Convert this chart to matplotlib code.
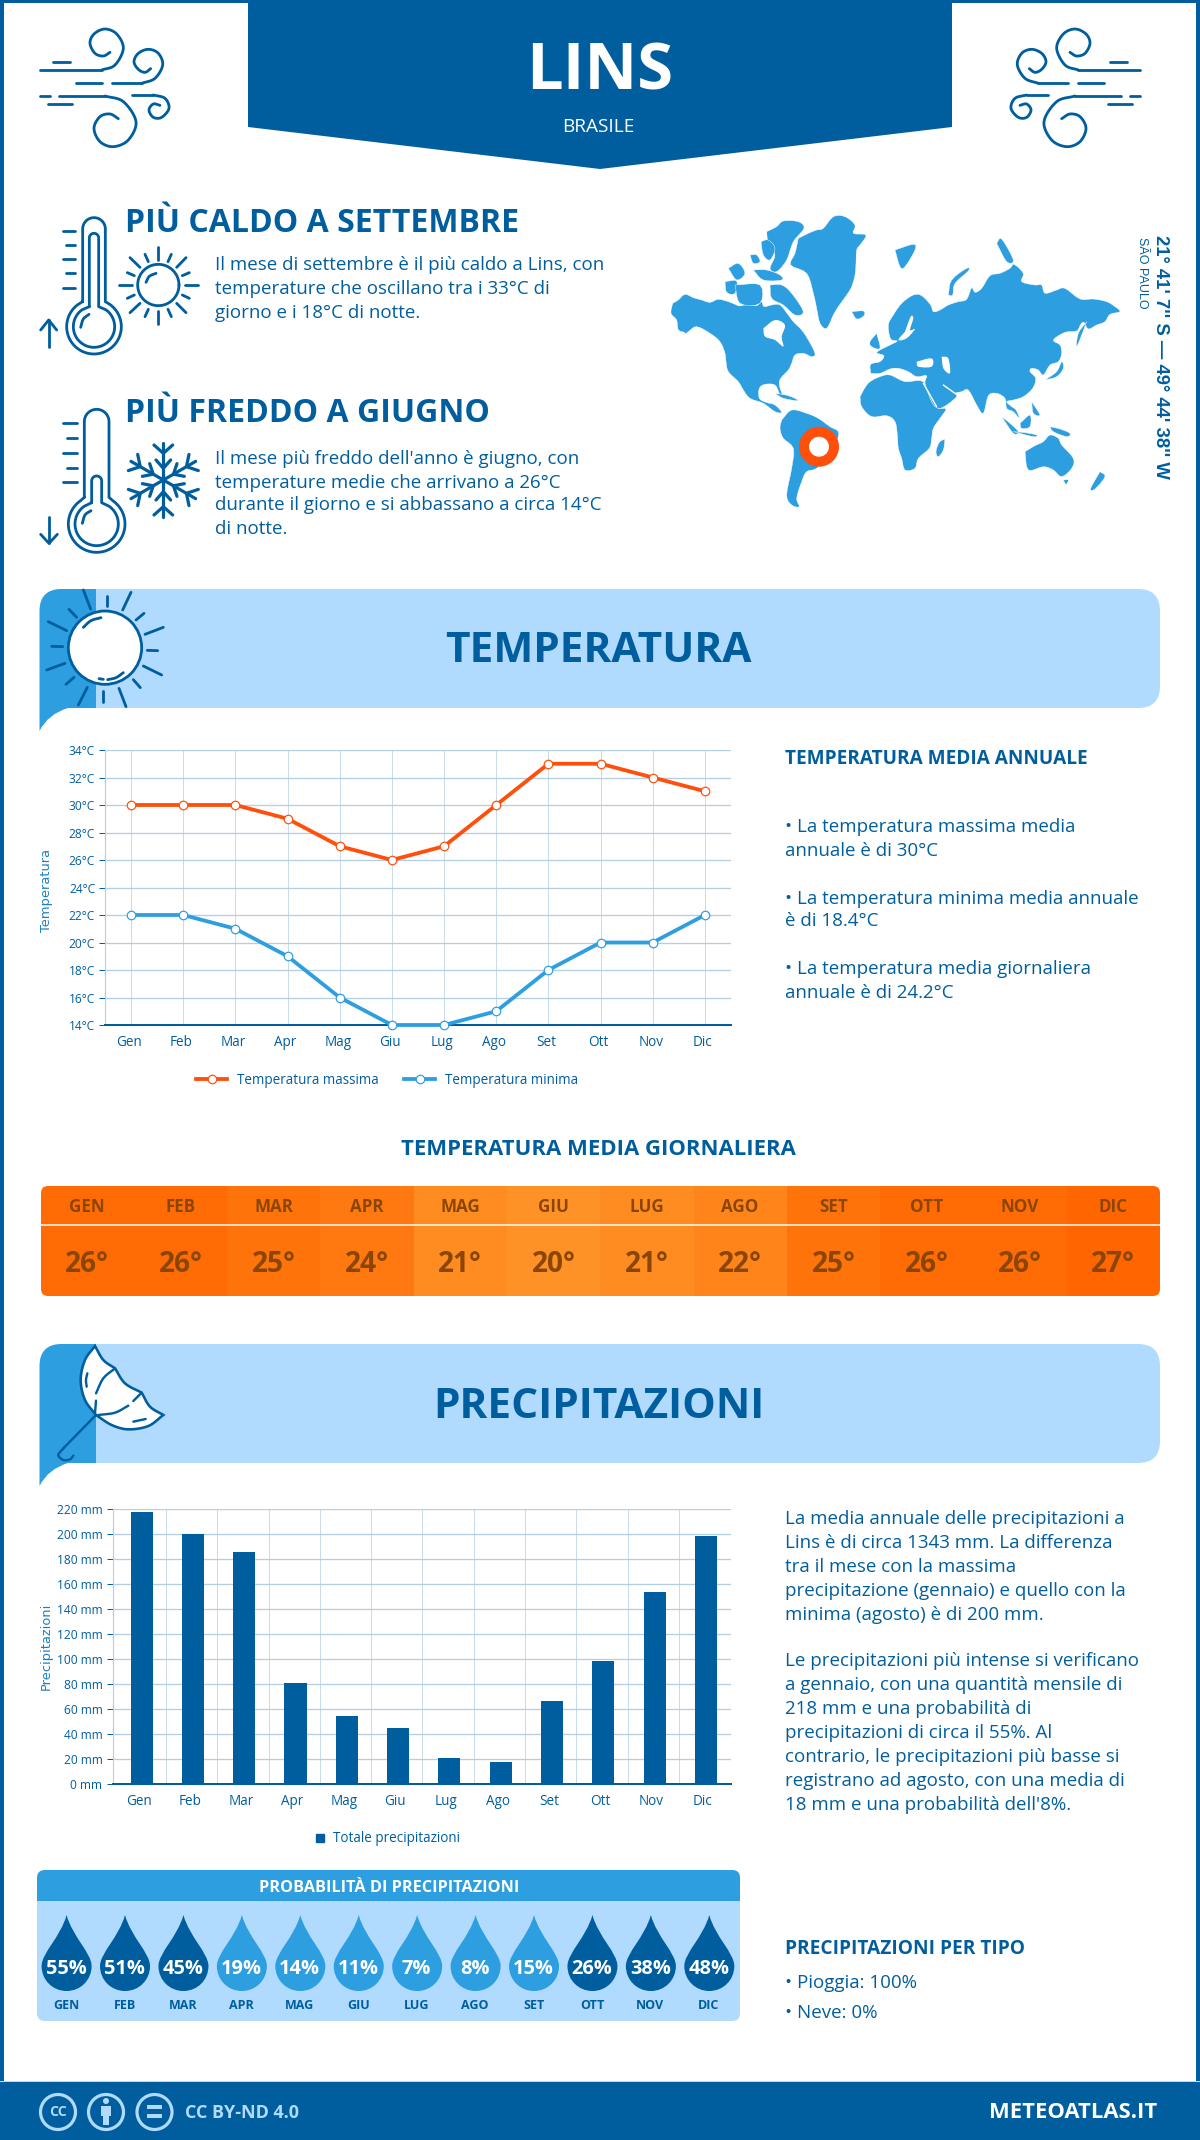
import matplotlib
matplotlib.use("Agg")
import matplotlib.pyplot as plt
import numpy as np
from matplotlib.colors import LinearSegmentedColormap
from matplotlib.lines import Line2D
from matplotlib.patches import Circle, FancyBboxPatch, PathPatch, Polygon, Rectangle
from matplotlib.path import Path
from matplotlib.transforms import ScaledTranslation

plt.rcParams['font.family'] = ['Open Sans', 'DejaVu Sans']

months = ["Gen", "Feb", "Mar", "Apr", "Mag", "Giu", "Lug", "Ago", "Set", "Ott", "Nov", "Dic"]
temp_max = [30, 30, 30, 29, 27, 26, 27, 30, 33, 33, 32, 31]
temp_min = [22, 22, 21, 19, 16, 14, 14, 15, 18, 20, 20, 22]
temp_daily = [26, 26, 25, 24, 21, 20, 21, 22, 25, 26, 26, 27]
rain_mm = [218, 200, 186, 81, 55, 45, 21, 18, 67, 99, 154, 199]
rain_prob = [55, 51, 45, 19, 14, 11, 7, 8, 15, 26, 38, 48]

DARK = "#005E9E"
MID = "#2D9EE0"
LIGHT = "#B0DBFF"
ORANGE = "#FF4F0A"
GRID = "#B4CFE4"
BROWN = "#8A4500"
BODY = 18.8

W, H = 1200, 2140
fig = plt.figure(figsize=(W / 100, H / 100), dpi=100)
bg = fig.add_axes([0, 0, 1, 1])
bg.set_xlim(0, W)
bg.set_ylim(H, 0)
bg.axis("off")
bg.set_autoscale_on(False)


def pt(px):
    return px * 0.72


def txt(x, y, s, px, color=DARK, weight="normal", ha="left", va="center", **kw):
    # open sans sits a bit high when centred, so push horizontal text down
    dy = 0 if "rotation" in kw else 2.5
    return bg.text(x, y + dy, s, fontsize=pt(px), color=color, fontweight=weight, ha=ha, va=va, **kw)


def smooth(points, n=10):
    p = np.array(points, dtype=float)
    p = np.vstack([2 * p[0] - p[1], p, 2 * p[-1] - p[-2]])
    out = []
    for i in range(1, len(p) - 2):
        for t in np.linspace(0, 1, n, endpoint=False):
            out.append(0.5 * (2 * p[i] + (p[i + 1] - p[i - 1]) * t
                              + (2 * p[i - 1] - 5 * p[i] + 4 * p[i + 1] - p[i + 2]) * t ** 2
                              + (3 * p[i] - p[i - 1] - 3 * p[i + 1] + p[i + 2]) * t ** 3))
    out.append(p[-2])
    return np.array(out)


def stroke(pts, ox, oy, lw=2.8, color=DARK, mirror=None, zorder=3):
    p = np.array(pts, dtype=float)
    xs = ox + p[:, 0] / 3
    ys = oy + p[:, 1] / 3
    if mirror is not None:
        xs = mirror - xs
    bg.plot(xs, ys, color=color, lw=pt(lw), solid_capstyle="round", solid_joinstyle="round", zorder=zorder)


def arc(cx, cy, r, a0, a1, n=60):
    t = np.radians(np.linspace(a0, a1, n))
    return np.column_stack([cx + r * np.cos(t), cy + r * np.sin(t)])


# page frame and header
bg.add_patch(Rectangle((0, 0), W, H, fc="white", ec="none", zorder=0))
bg.add_patch(Rectangle((0, 0), 4, H, fc=DARK, ec="none", zorder=1))
bg.add_patch(Rectangle((W - 4, 0), 4, H, fc=DARK, ec="none", zorder=1))
bg.add_patch(Rectangle((0, 0), W, 3, fc=DARK, ec="none", zorder=1))
bg.add_patch(Polygon([(248, 0), (952, 0), (952, 127), (600, 169), (248, 127)], fc=DARK, ec="none", zorder=2))
txt(600, 70, "LINS", 65, "white", "bold", "center", zorder=3)
txt(598, 124, "BRASILE", 19, "white", "normal", "center", zorder=3)

# wind icons, same drawing mirrored on the right
wind_curves = [
    [(245, 180), (285, 165), (310, 115), (290, 72), (255, 57), (222, 72), (210, 100), (225, 130), (250, 138), (270, 127)],
    [(365, 220), (405, 205), (428, 165), (415, 130), (385, 118), (355, 130), (342, 155), (355, 178), (375, 187), (392, 176)],
    [(255, 258), (310, 275), (348, 335), (325, 390), (280, 410), (240, 395), (222, 355), (240, 320), (270, 312), (295, 326)],
    [(400, 255), (435, 265), (447, 295), (425, 322), (400, 322), (387, 300), (400, 282), (420, 286)],
]
wind_lines = [
    [(60, 180), (245, 180)], [(275, 220), (365, 220)], [(118, 258), (255, 258)], [(335, 255), (400, 255)],
    [(98, 155), (150, 155)], [(168, 220), (245, 220)], [(60, 258), (90, 258)], [(85, 283), (155, 283)],
]
for m in [None, 1180]:
    for c in wind_curves:
        stroke(smooth(c), 20, 10, mirror=m)
    for l in wind_lines:
        stroke(l, 20, 10, mirror=m)


def thermometer(ox, oy, outer, inner, cx, cy, high):
    for l, r, top, neck, rad in [outer, inner]:
        hw = (r - l) / 2
        body = [[(l, neck)], arc(cx, cy, rad, 235, -55), [(r, neck)], arc((l + r) / 2, top + hw, hw, 0, -180), [(l, neck)]]
        stroke(np.vstack(body), ox, oy)
    stroke(high, ox, oy)


thermometer(30, 205, (158, 226, 38, 290, 82), (178, 206, 85, 305, 62), 192, 365, smooth([(152, 367), (160, 342), (177, 328)]))
for y, x0 in zip([77, 120, 163, 205, 248], [98, 108, 98, 108, 98]):
    stroke([(x0, y), (135, y)], 30, 205)
stroke([(56, 425), (56, 345)], 30, 205)
stroke([(32, 375), (56, 345), (80, 375)], 30, 205)

# small sun
stroke(arc(385, 240, 62, 0, 360), 30, 205)
stroke(smooth([(348, 232), (358, 214), (378, 205)]), 30, 205)
small_rays = [
    [(385, 125), (385, 165)], [(385, 318), (385, 358)], [(268, 240), (305, 240)], [(465, 240), (503, 240)],
    [(300, 158), (330, 187)], [(468, 158), (440, 187)], [(300, 323), (330, 295)], [(468, 323), (440, 295)],
    [(345, 148), (355, 170)], [(424, 148), (414, 170)], [(292, 203), (313, 212)], [(478, 203), (457, 212)],
    [(292, 280), (313, 270)], [(478, 280), (457, 270)], [(345, 335), (355, 313)], [(424, 335), (414, 313)],
]
for r in small_rays:
    stroke(r, 30, 205)

thermometer(30, 400, (163, 237, 28, 292, 85), (185, 215, 228, 308, 65), 200, 372, smooth([(157, 370), (165, 345), (183, 332)]))
for y, x0 in zip([70, 115, 158, 203, 247], [100, 110, 100, 110, 100]):
    stroke([(x0, y), (140, y)], 30, 400)
stroke([(57, 350), (57, 430)], 30, 400)
stroke([(32, 403), (57, 430), (82, 403)], 30, 400)

# snowflake
for a in [90, 30, -30, -90, 150, 210]:
    c, s = np.cos(np.radians(a)), np.sin(np.radians(a))
    rot = lambda u, v: (400 + u * c - v * s, 240 - u * s - v * c)
    stroke([rot(0, 0), rot(112, 0)], 30, 400, lw=3.2)
    stroke([rot(105, 28), rot(80, 0), rot(105, -28)], 30, 400, lw=3.2)
    stroke([rot(60, 22), rot(35, 0), rot(60, -22)], 30, 400, lw=3.2)

txt(125, 221, "PIÙ CALDO A SETTEMBRE", 32, weight="bold")
txt(125, 411, "PIÙ FREDDO A GIUGNO", 32, weight="bold")
for y, s in zip([262, 286, 310], ["Il mese di settembre è il più caldo a Lins, con",
                                  "temperature che oscillano tra i 33°C di",
                                  "giorno e i 18°C di notte."]):
    txt(215, y, s, BODY)
for y, s in zip([456, 480, 503, 527], ["Il mese più freddo dell'anno è giugno, con",
                                       "temperature medie che arrivano a 26°C",
                                       "durante il giorno e si abbassano a circa 14°C",
                                       "di notte."]):
    txt(215, y, s, BODY)

# world map, outlines
map_land = [
    # north america
    [(38, 295), (55, 285), (75, 268), (100, 278), (125, 285), (150, 292), (175, 283), (205, 290), (225, 298), (240, 303),
     (262, 298), (290, 302), (305, 290), (312, 305), (335, 300), (360, 300), (385, 330), (400, 350), (425, 375), (445, 405),
     (465, 445), (455, 455), (430, 445), (405, 450), (395, 475), (385, 495), (362, 520), (358, 540), (368, 575), (358, 565),
     (345, 540), (315, 538), (298, 550), (298, 580), (318, 592), (345, 600), (365, 622), (345, 620), (310, 595), (270, 580),
     (250, 555), (235, 530), (205, 500), (198, 470), (195, 445), (180, 410), (150, 385), (110, 365), (85, 380), (45, 410),
     (75, 385), (55, 375), (50, 345), (33, 325)],
    # arctic islands
    [(320, 80), (350, 65), (370, 48), (415, 50), (432, 70), (400, 110), (380, 165), (350, 200), (330, 190), (345, 150), (325, 120)],
    [(330, 240), (365, 240), (395, 265), (430, 320), (405, 330), (370, 300), (335, 280)],
    [(195, 230), (230, 228), (225, 265), (200, 262)],
    [(205, 190), (235, 175), (255, 205), (230, 225)],
    [(225, 240), (300, 240), (300, 295), (240, 295)],
    [(280, 195), (320, 195), (360, 210), (365, 225), (310, 225)],
    [(303, 110), (325, 105), (345, 130), (330, 165), (310, 150)],
    [(270, 150), (290, 150), (300, 170), (280, 175)],
    # greenland, iceland
    [(415, 100), (445, 85), (470, 75), (490, 70), (520, 35), (555, 35), (585, 60), (580, 85), (618, 90), (600, 120),
     (590, 135), (588, 175), (585, 210), (575, 245), (560, 270), (535, 305), (520, 330), (500, 370), (480, 355), (470, 310),
     (460, 265), (440, 205), (392, 180), (405, 145)],
    [(575, 320), (610, 318), (612, 332), (590, 342)],
    # south america
    [(365, 645), (395, 615), (440, 625), (475, 640), (510, 665), (535, 680), (530, 710), (510, 750), (470, 790), (440, 800),
     (425, 830), (410, 880), (418, 905), (395, 900), (380, 870), (395, 790), (400, 730), (370, 700), (360, 670)],
    [(345, 565), (385, 572), (415, 587), (370, 580)],
    # africa and madagascar
    [(600, 575), (615, 548), (630, 530), (660, 515), (690, 510), (735, 530), (790, 530), (815, 590), (835, 610), (858, 612),
     (840, 640), (820, 670), (815, 700), (808, 730), (775, 760), (765, 790), (735, 795), (725, 760), (715, 730), (712, 690),
     (705, 650), (680, 632), (635, 635), (605, 605)],
    [(855, 702), (850, 735), (835, 755), (828, 740), (838, 712)],
    # eurasia
    [(632, 505), (632, 478), (660, 470), (672, 452), (650, 442), (690, 420), (712, 408), (692, 402), (685, 360), (700, 330),
     (725, 295), (760, 270), (785, 272), (812, 300), (820, 320), (840, 315), (865, 300), (895, 290), (920, 283), (935, 248),
     (945, 262), (965, 250), (990, 212), (1020, 205), (1050, 190), (1062, 178), (1090, 205), (1085, 230), (1125, 240),
     (1145, 240), (1155, 265), (1190, 255), (1215, 250), (1260, 282), (1300, 282), (1340, 290), (1365, 305), (1380, 320),
     (1350, 328), (1335, 350), (1310, 360), (1285, 372), (1272, 352), (1262, 358), (1250, 378), (1215, 382), (1180, 405),
     (1200, 420), (1205, 445), (1195, 470), (1170, 480), (1150, 510), (1135, 495), (1115, 490), (1110, 500), (1127, 520),
     (1118, 550), (1090, 575), (1060, 585), (1040, 590), (1055, 605), (1068, 615), (1078, 640), (1060, 620), (1040, 610),
     (1035, 580), (1010, 565), (985, 572), (970, 625), (950, 600), (925, 555), (905, 560), (885, 565), (890, 575), (860, 600),
     (835, 610), (815, 590), (795, 535), (800, 512), (770, 515), (745, 500), (715, 490), (690, 492), (660, 505)],
    # islands
    [(650, 385), (660, 430), (635, 425), (630, 410)],
    [(705, 135), (760, 118), (765, 135), (735, 185), (720, 185)],
    [(865, 270), (875, 225), (920, 190), (925, 198), (885, 235), (878, 270)],
    [(1010, 115), (1025, 102), (1060, 165), (1040, 170)],
    [(1280, 350), (1265, 390), (1250, 425), (1255, 385)],
    [(1155, 525), (1190, 500), (1205, 470), (1210, 490), (1190, 515)],
    [(1025, 635), (1050, 655), (1075, 680), (1060, 685)],
    [(1080, 655), (1110, 630), (1110, 665), (1085, 670)],
    [(1060, 680), (1095, 683), (1130, 690), (1120, 695)],
    [(1115, 590), (1140, 630), (1120, 625)],
    [(1170, 665), (1200, 672), (1230, 685), (1220, 695), (1180, 680)],
    # australia, tasmania, new zealand
    [(1095, 740), (1125, 722), (1150, 710), (1170, 690), (1195, 700), (1205, 720), (1240, 760), (1235, 790), (1205, 815),
     (1180, 795), (1150, 785), (1105, 795)],
    [(1210, 825), (1225, 825), (1218, 838)],
    [(1320, 800), (1335, 815), (1305, 852), (1292, 850)],
]
map_water = [
    [(310, 370), (345, 345), (375, 360), (365, 395), (370, 425), (345, 405), (315, 395)],
    [(770, 470), (815, 460), (815, 485), (775, 485)],
    [(845, 455), (865, 460), (870, 505), (850, 490)],
    [(735, 380), (752, 335), (760, 340), (750, 375), (765, 372), (740, 400), (715, 405)],
]
to_px = lambda poly: [(660 + x / 3, 205 + y / 3) for x, y in poly]
for poly in map_land:
    bg.add_patch(Polygon(to_px(smooth(list(poly) + [poly[0]], n=4)), fc=MID, ec="white", lw=0.3, zorder=2))
for poly in map_water:
    bg.add_patch(Polygon(to_px(smooth(list(poly) + [poly[0]], n=4)), fc="white", ec="none", zorder=2.5))
for l in [[(790, 535), (830, 605)], [(850, 540), (885, 565)]]:
    stroke(l, 660, 205, lw=1.4, color="white", zorder=2.5)
bg.add_patch(Circle((819, 446.7), 15, fc="white", ec=ORANGE, lw=pt(10), zorder=3))
txt(1161, 357, "21° 41' 7'' S — 49° 44' 38'' W", 18.5, weight="bold", ha="center", rotation=270,
    family="Liberation Sans")
txt(1142, 273, "SÃO PAULO", 12.5, ha="center", rotation=270, family="Liberation Sans")


def section_banner(y0, title, title_y):
    bg.add_patch(FancyBboxPatch((40, y0), 1120, 119, boxstyle="round,pad=0,rounding_size=22", fc=LIGHT, ec="none", zorder=1))
    top, bot, end = y0, y0 + 119, y0 + 142
    verts = [(96, top), (62, top), (39.5, top), (39.5, top + 22), (39.5, end), (48, bot + 6), (68, bot), (96, bot), (96, top)]
    codes = [Path.MOVETO, Path.LINETO, Path.CURVE3, Path.CURVE3, Path.LINETO, Path.CURVE3, Path.CURVE3, Path.LINETO, Path.CLOSEPOLY]
    bg.add_patch(PathPatch(Path(verts, codes), fc=MID, ec="none", zorder=2))
    txt(598.5, title_y, title, 42.4, weight="bold", ha="center", zorder=4)


section_banner(589, "TEMPERATURA", 649)
section_banner(1344, "PRECIPITAZIONI", 1405.5)

# big sun in the temperature banner
bg.add_patch(Circle((35 + 210 / 3, 585 + 188 / 3), 110 / 3, fc="white", ec=DARK, lw=pt(2.8), zorder=3))
big_rays = [
    [(145, 15), (167, 72)], [(215, 32), (215, 62)], [(288, 22), (263, 75)], [(327, 85), (303, 105)],
    [(385, 127), (330, 148)], [(368, 197), (337, 196)], [(380, 270), (325, 243)], [(316, 308), (295, 284)],
    [(273, 365), (252, 310)], [(203, 350), (203, 318)], [(130, 360), (157, 307)], [(93, 298), (117, 277)],
    [(35, 255), (90, 235)], [(83, 185), (50, 184)], [(95, 137), (40, 110)], [(125, 97), (102, 73)],
    [(192, 281), (205, 283)],
]
for r in big_rays:
    stroke(r, 35, 585)
stroke(smooth([(145, 127), (168, 107), (198, 98)]), 35, 585)
stroke(smooth([(218, 284), (243, 278), (265, 263)]), 35, 585)

# umbrella in the rain banner
canopy = np.vstack([
    smooth([(180, 18), (205, 60), (240, 85)]), smooth([(240, 85), (270, 130), (320, 158)]),
    smooth([(320, 158), (345, 200), (385, 225)]), smooth([(385, 225), (340, 258), (280, 268), (230, 255), (183, 225)]),
    smooth([(183, 225), (150, 180), (137, 120), (150, 60), (180, 18)]),
])
bg.add_patch(Polygon([(35 + x / 3, 1340 + y / 3) for x, y in canopy], fc="white", ec=DARK, lw=pt(2.6), zorder=3))
um_lines = [
    smooth([(240, 85), (205, 115), (183, 160)]), [(183, 182), (180, 220)], [(320, 158), (295, 183)],
    smooth([(280, 197), (240, 218), (190, 225)]), smooth([(157, 100), (153, 120), (155, 140)]), [(295, 245), (332, 237)],
    [(183, 225), (85, 325)], smooth([(85, 325), (70, 345), (85, 360), (105, 358), (115, 347)]),
]
for l in um_lines:
    stroke(l, 35, 1340, lw=2.4, zorder=4)

# temperature chart
ax = fig.add_axes([105 / W, 1 - 1025 / H, 626 / W, 275 / H])
ax.patch.set_alpha(0)
x = np.arange(12)
ax.plot(x, temp_max, color=ORANGE, lw=pt(3.8), marker="o", ms=pt(8.5), mfc="white", mec=ORANGE, mew=pt(1.2), label="Temperatura massima", clip_on=False, zorder=4)
ax.plot(x, temp_min, color=MID, lw=pt(3.8), marker="o", ms=pt(8.5), mfc="white", mec=MID, mew=pt(1.2), label="Temperatura minima", clip_on=False, zorder=4)
ax.set_xlim(-0.5, 11.5)
ax.set_ylim(14, 34)
ax.set_yticks(range(14, 35, 2))
ax.set_yticklabels([f"{v}°C" for v in range(14, 35, 2)])
ax.set_xticks(x)
ax.set_xticklabels(months)
ax.set_ylabel("Temperatura", fontsize=pt(13), color="#1C80BE", family="DejaVu Sans", labelpad=0)
ax.yaxis.set_label_coords((53 - 105) / 626, 0.49)
ax.legend(loc="center", bbox_to_anchor=((387 - 105) / 626, -55 / 275), ncol=2, frameon=False, fontsize=pt(13.5),
          labelcolor=DARK, handlelength=2.3, columnspacing=1.9, handletextpad=0.7)

# rain chart
ax2 = fig.add_axes([112.5 / W, 1 - 1784.3 / H, 618.5 / W, 275 / H])
ax2.patch.set_alpha(0)
ax2.bar(x, rain_mm, width=0.43, color=DARK, label="Totale precipitazioni", zorder=3)
ax2.set_xlim(-0.567, 11.49)
ax2.set_ylim(0, 220)
ax2.set_yticks(range(0, 221, 20))
ax2.set_yticklabels([f"{v} mm" for v in range(0, 221, 20)])
ax2.set_xticks(x)
ax2.set_xticklabels(months)
ax2.set_xticks(x[:-1] + 0.475, minor=True)
ax2.set_ylabel("Precipitazioni", fontsize=pt(13), color="#1C80BE", family="DejaVu Sans", labelpad=0)
ax2.yaxis.set_label_coords((53 - 112.5) / 618.5, 0.5)
ax2.legend(handles=[Line2D([], [], ls="none", marker="s", ms=pt(8), color=DARK)], labels=["Totale precipitazioni"],
           loc="center", bbox_to_anchor=((388 - 112.5) / 618.5, -54.5 / 275), frameon=False, fontsize=pt(13.5),
           labelcolor=DARK, handlelength=0.6, handletextpad=0.7)

for a, vgrid, shift in [(ax, "major", -2), (ax2, "minor", -3)]:
    a.grid(axis="y", color=GRID, lw=pt(1.3), zorder=0)
    a.grid(axis="x", which=vgrid, color="#C8DCEB", lw=pt(1), zorder=0)
    a.set_axisbelow(True)
    for s in ["top", "right"]:
        a.spines[s].set_visible(False)
    a.spines["left"].set_color(GRID)
    a.spines["bottom"].set_color(DARK)
    a.spines["bottom"].set_linewidth(pt(2))
    a.tick_params(axis="y", length=pt(6), color=DARK, labelcolor=DARK, labelsize=pt(12), pad=pt(4), width=pt(1))
    a.tick_params(axis="x", which="both", length=0, labelcolor=DARK, labelsize=pt(13.5), pad=pt(10))
    for lab in a.get_xticklabels():
        lab.set_transform(lab.get_transform() + ScaledTranslation(shift / 100, 0, fig.dpi_scale_trans))

# text beside the charts
txt(785, 757, "TEMPERATURA MEDIA ANNUALE", 19, weight="bold")
for y, s in zip([825, 848, 896, 919, 967, 990],
                ["• La temperatura massima media", "annuale è di 30°C", "• La temperatura minima media annuale",
                 "è di 18.4°C", "• La temperatura media giornaliera", "annuale è di 24.2°C"]):
    txt(785, y, s, BODY)
for y, s in zip([1517, 1540, 1564, 1588, 1612, 1659, 1683, 1707, 1730, 1754, 1778, 1802],
                ["La media annuale delle precipitazioni a", "Lins è di circa 1343 mm. La differenza",
                 "tra il mese con la massima", "precipitazione (gennaio) e quello con la", "minima (agosto) è di 200 mm.",
                 "Le precipitazioni più intense si verificano", "a gennaio, con una quantità mensile di",
                 "218 mm e una probabilità di", "precipitazioni di circa il 55%. Al",
                 "contrario, le precipitazioni più basse si", "registrano ad agosto, con una media di",
                 "18 mm e una probabilità dell'8%."]):
    txt(785, y, s, BODY)

# daily temperature strip
txt(598, 1147, "TEMPERATURA MEDIA GIORNALIERA", 22.2, weight="bold", ha="center")
ax3 = fig.add_axes([40.5 / W, 1 - 1296 / H, 1119.5 / W, 110 / H])
ax3.axis("off")
heat = LinearSegmentedColormap.from_list("heat", ["#FF9226", "#FF6600"])
mesh = ax3.pcolormesh(np.arange(13), [0, 1], np.array([temp_daily]), cmap=heat, vmin=20, vmax=27)
clip = FancyBboxPatch((40.5, 1186), 1119.5, 110, boxstyle="round,pad=0,rounding_size=7", transform=bg.transData)
mesh.set_clip_path(clip)
ax3.set_xlim(0, 12)
ax3.set_ylim(0, 1)
for i, (m, v) in enumerate(zip(months, temp_daily)):
    ax3.text(i + 0.5, (1296 - 1207) / 110, m.upper(), fontsize=pt(17), color=BROWN, fontweight="bold", ha="center", va="center")
    ax3.text(i + 0.5, (1296 - 1264) / 110, f"{v}°", fontsize=pt(28), color=BROWN, fontweight="bold", ha="center", va="center")
ax3.plot([0, 12], [(1296 - 1225) / 110] * 2, color="white", lw=pt(1.5))

# rain probability panel
bg.add_patch(FancyBboxPatch((37, 1870), 703, 151, boxstyle="round,pad=0,rounding_size=8", fc=LIGHT, ec="none", zorder=1))
bg.add_patch(FancyBboxPatch((37, 1870), 703, 31, boxstyle="round,pad=0,rounding_size=8", fc=MID, ec="none", zorder=1.2))
bg.add_patch(Rectangle((37, 1885), 703, 16, fc=MID, ec="none", zorder=1.2))
txt(389, 1886, "PROBABILITÀ DI PRECIPITAZIONI", 16.3, "white", "bold", "center", zorder=3)
drop_x = np.linspace(66.6, 709.3, 12)
for cx, p, m in zip(drop_x, rain_prob, months):
    top = 1915
    verts = [(cx, top), (cx + 6, top + 22), (cx + 25, top + 38), (cx + 25, top + 51),
             (cx + 25, top + 65), (cx + 14, top + 76), (cx, top + 76),
             (cx - 14, top + 76), (cx - 25, top + 65), (cx - 25, top + 51),
             (cx - 25, top + 38), (cx - 6, top + 22), (cx, top)]
    codes = [Path.MOVETO] + [Path.CURVE4] * 12
    bg.add_patch(PathPatch(Path(verts, codes), fc=DARK if p >= 26 else MID, ec="none", zorder=2))
    txt(cx - 0.5, 1966, f"{p}%", 20, "white", "bold", "center", zorder=3)
    txt(cx - 0.5, 2003, m.upper(), 12.5, DARK, "bold", "center", zorder=3)

txt(785, 1947, "PRECIPITAZIONI PER TIPO", 19.2, weight="bold")
txt(785, 1981, "• Pioggia: 100%", BODY)
txt(785, 2010, "• Neve: 0%", BODY)

# footer
bg.add_patch(Rectangle((0, 2081), W, 1.5, fc="#D5D5D5", ec="none", zorder=1))
bg.add_patch(Rectangle((0, 2082), W, 58, fc=DARK, ec="none", zorder=2))
for cx in [58, 106, 154.5]:
    bg.add_patch(Circle((cx, 2112), 17.5, fc="none", ec=LIGHT, lw=pt(3.2), zorder=3))
txt(58, 2110, "CC", 14, LIGHT, "bold", "center", zorder=4)
bg.add_patch(Circle((106, 2101), 3, fc=LIGHT, ec="none", zorder=4))
bg.add_patch(Rectangle((101, 2106), 10, 10, fc=LIGHT, ec="none", zorder=4))
bg.add_patch(Rectangle((103, 2114), 6, 11, fc=LIGHT, ec="none", zorder=4))
bg.add_patch(Rectangle((147, 2105), 15, 4, fc=LIGHT, ec="none", zorder=4))
bg.add_patch(Rectangle((147, 2114), 15, 4, fc=LIGHT, ec="none", zorder=4))
txt(185, 2110, "CC BY-ND 4.0", 18, LIGHT, "bold", zorder=4)
txt(1157.5, 2110, "METEOATLAS.IT", 22, "white", "bold", "right", zorder=4)

fig.savefig("out.png", dpi=100)
